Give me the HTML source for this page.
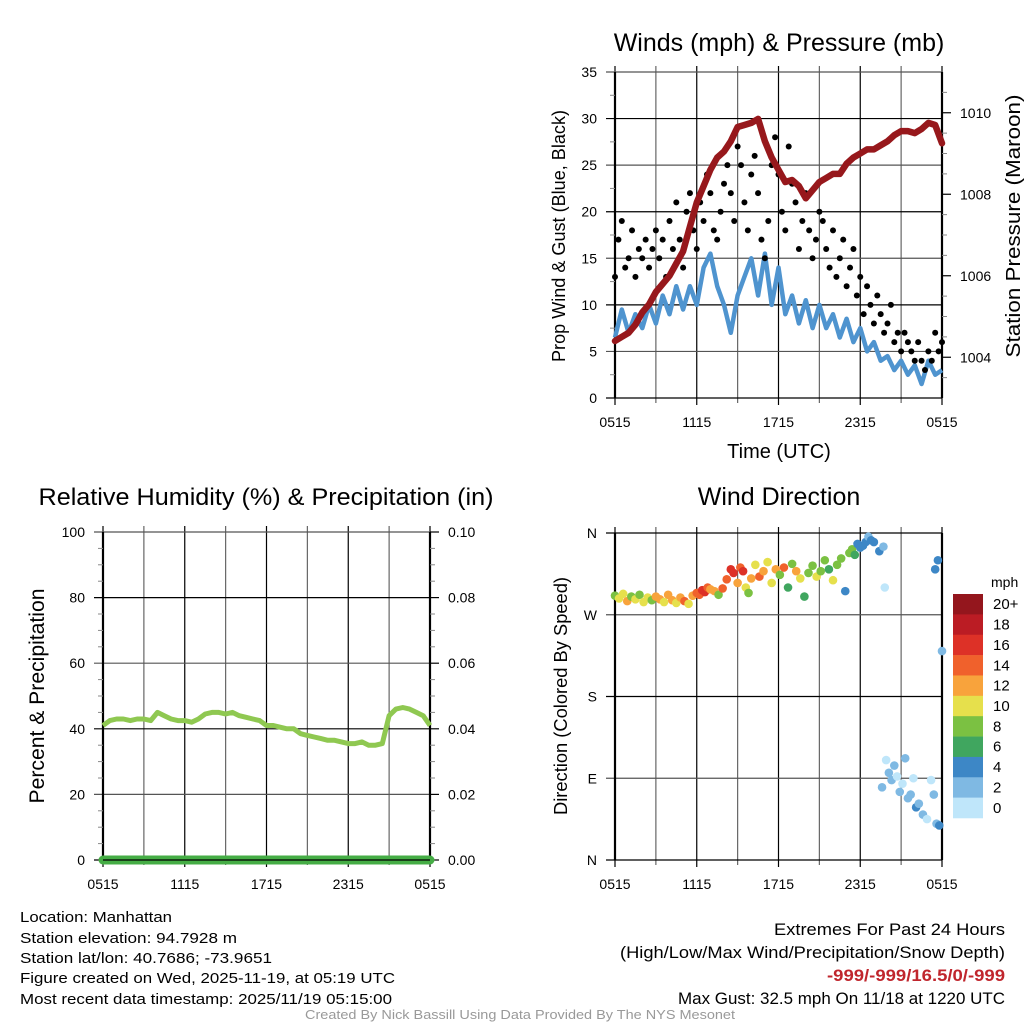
<!DOCTYPE html>
<html><head><meta charset="utf-8"><style>
body{margin:0;background:#fff}
svg{display:block;font-family:"Liberation Sans",sans-serif}
</style></head><body>
<svg id="fig" width="1024" height="1024" viewBox="0 0 1024 1024">
<g id="winds"></g>
<g id="rh"></g>
<g id="dir"></g>
<g id="cbar"></g>
<g font-size="15" fill="#000">
<text x="20" y="922" textLength="152" lengthAdjust="spacingAndGlyphs">Location: Manhattan</text>
<text x="20" y="943" textLength="217" lengthAdjust="spacingAndGlyphs">Station elevation: 94.7928 m</text>
<text x="20" y="963" textLength="252" lengthAdjust="spacingAndGlyphs">Station lat/lon: 40.7686; -73.9651</text>
<text x="20" y="983" textLength="375" lengthAdjust="spacingAndGlyphs">Figure created on Wed, 2025-11-19, at 05:19 UTC</text>
<text x="20" y="1004" textLength="372" lengthAdjust="spacingAndGlyphs">Most recent data timestamp: 2025/11/19 05:15:00</text>
</g>
<g font-size="17">
<text x="774" y="935" textLength="231" lengthAdjust="spacingAndGlyphs">Extremes For Past 24 Hours</text>
<text x="620" y="958" textLength="385" lengthAdjust="spacingAndGlyphs">(High/Low/Max Wind/Precipitation/Snow Depth)</text>
<text x="827" y="981" textLength="178" lengthAdjust="spacingAndGlyphs" fill="#c0262d" font-weight="bold">-999/-999/16.5/0/-999</text>
<text x="678" y="1004" textLength="327" lengthAdjust="spacingAndGlyphs">Max Gust: 32.5 mph On 11/18 at 1220 UTC</text>
</g>
<text x="305" y="1019" font-size="13" fill="#999" textLength="430" lengthAdjust="spacingAndGlyphs">Created By Nick Bassill Using Data Provided By The NYS Mesonet</text>
</svg>
<script>
// ---- data ----
const xTickLabels = ["0515","1115","1715","2315","0515"];
const sustained = [6.5,9.5,7,9,7.5,10,8,11,9,12,9.5,12,10,14,15.5,12,10,7,11,13,15,11,15.5,10,14,9,11,8,10.5,7.5,10,7.5,9,6.5,8.5,6,7.5,5,6,4,4.5,3,4,2.5,3.5,1.5,4,2.5,3];
const gusts = [13,17,19,14,15,18,13,16,15,17,14,16,18,15,17,13,19,16,21,17,14,20,22,18,16,21,19,24,22,18,17,20,23,25,22,19,27,25,21,18,24,26,22,17,15,19,25,28,24,20,18,27,23,21,16,19,22,18,15,17,20,19,16,14,18,13,15,17,12,14,16,11,13,9,12,10,8,11,9,7,8,10,6,7,5,7,6,5,4,6,4,3,5,4,7,5,6];
const pressure = [1004.4,1004.5,1004.6,1004.8,1005.1,1005.3,1005.6,1005.8,1006.0,1006.3,1006.6,1007.2,1007.8,1008.2,1008.6,1008.9,1009.05,1009.3,1009.65,1009.7,1009.75,1009.85,1009.3,1008.9,1008.6,1008.3,1008.35,1008.2,1007.9,1008.1,1008.3,1008.4,1008.5,1008.5,1008.75,1008.9,1009.0,1009.1,1009.1,1009.2,1009.3,1009.45,1009.55,1009.55,1009.5,1009.6,1009.75,1009.7,1009.25];
const rhValues = [41,42.5,43,43,42.5,43,43,42.5,45,44,43,42.5,42.5,42,43,44.5,45,45,44.5,45,44,43.5,43,42.5,41,41,40.5,40,40,38.5,38,37.5,37,36.5,36.5,36,35.5,35.5,36,35,35,35.5,44,46,46.5,46,45,44,41];
const precipValues = [0,0,0,0,0,0,0,0,0,0,0,0,0,0,0,0,0,0,0,0,0,0,0,0,0,0,0,0,0,0,0,0,0,0,0,0,0,0,0,0,0,0,0,0,0,0,0,0,0];
const dirHour = [0,0.3,0.6,0.9,1.2,1.5,1.8,2.1,2.4,2.7,3,3.3,3.6,3.9,4.2,4.5,4.8,5.1,5.4,5.7,6,6.2,6.4,6.6,6.8,7,7.3,7.6,7.9,8.2,8.5,8.7,9,9.2,9.4,9.6,9.8,10,10.3,10.6,10.9,11.2,11.5,11.8,12.1,12.4,12.7,13,13.3,13.6,13.9,14.2,14.5,14.8,15.1,15.4,15.7,16,16.3,16.6,16.9,17.2,17.4,17.6,17.8,18,18.2,18.4,18.6,18.8,19,19.4,19.7,19.8,19.6,19.9,20.1,20.3,20.5,20.7,20.9,21.1,21.3,21.5,21.7,21.9,22.1,22.3,22.6,22.9,23.2,23.4,23.6,23.8,24,23.5,23.7];
const dirDeg = [291,288,293,285,290,287,292,284,289,286,290,287,284,292,286,283,289,285,282,291,294,292,297,295,300,298,296,292,299,309,320,316,305,322,318,300,294,310,325,312,318,328,305,320,314,322,300,326,318,310,290,316,324,312,318,330,320,308,325,332,296,338,342,336,348,344,346,350,356,352,350,340,345,300,80,110,96,88,104,92,75,84,112,68,72,90,58,62,50,45,88,72,40,38,230,320,330];
const dirSpeed = [9,11,10,12,9,11,8,10,11,9,13,12,11,13,12,10,12,14,11,13,15,14,17,16,15,13,12,9,14,15,16,17,13,14,16,10,9,12,11,15,13,10,11,12,8,14,7,9,13,10,6,8,9,10,8,9,7,11,9,8,5,9,8,6,5,4,4,5,3,4,5,4,3,1,2,1,3,2,3,1,2,1,3,2,2,1,4,2,3,1,1,2,3,4,3,4,4];
const cbarLabels = ["20+","18","16","14","12","10","8","6","4","2","0"];
const cbarColors = ["#94161d","#bb1c24","#dd3127","#f0612c","#f8a33c","#e6e04c","#7bc142","#40a65f","#3d87c6","#7fb9e3","#bfe6fa"];

const NS="http://www.w3.org/2000/svg";
function mk(parent,tag,attrs){const e=document.createElementNS(NS,tag);for(const k in attrs)e.setAttribute(k,attrs[k]);parent.appendChild(e);return e;}
function txt(parent,x,y,s,size,anchor,extra){const t=mk(parent,'text',Object.assign({x:x,y:y,'font-size':size,'text-anchor':anchor||'middle'},extra||{}));t.textContent=s;return t;}

function frame(g,x0,x1,y0,y1,nY){
  for(let i=0;i<=8;i++){const x=x0+(x1-x0)*i/8;const l=mk(g,'line',{x1:x,x2:x,y1:y0-6,y2:y1+(i%2==0?7:5),stroke:i%2?'#666':'#000','stroke-width':1.2});
    
    }
  for(let j=0;j<=nY;j++){const y=y1-(y1-y0)*j/nY;const l=mk(g,'line',{x1:x0-9,x2:x1,y1:y,y2:y,stroke:j%2?'#555':'#000','stroke-width':1.2});
    
    }
  mk(g,'line',{x1:x0,x2:x0,y1:y0,y2:y1,stroke:'#000','stroke-width':2.2});
  mk(g,'line',{x1:x1,x2:x1,y1:y0,y2:y1,stroke:'#000','stroke-width':2.2});
  xTickLabels.forEach((s,i)=>{const t=txt(g,x0+(x1-x0)*i/4,y1+29,s,14);
    
    });
}

// ---- winds chart ----
(function(){
  const g=document.getElementById('winds');
  const X0=615,X1=942,Y0=72,Y1=398;
  const xs=h=>X0+(X1-X0)*h/24, ys=v=>Y1-(Y1-Y0)*v/35, yp=p=>Y1-(Y1-Y0)*(p-1003)/8;
  frame(g,X0,X1,Y0,Y1,7);
  for(let v=0;v<=35;v+=5){const t=txt(g,597,ys(v)+5,String(v),14,'end');
    
    }
  for(let v=2.5;v<35;v+=5)mk(g,'line',{x1:X0-5,x2:X0,y1:ys(v),y2:ys(v),stroke:'#888'});
  for(let p=1004;p<=1010;p+=2){mk(g,'line',{x1:X1,x2:X1+9,y1:yp(p),y2:yp(p),stroke:'#000','stroke-width':1.2});
    const t=txt(g,960,yp(p)+5,String(p),14,'start');
    
    }
  for(let p=1003.5;p<1011;p+=0.5){if(p%2)mk(g,'line',{x1:X1,x2:X1+5,y1:yp(p),y2:yp(p),stroke:'#888'});}
  let d=sustained.map((v,i)=>(i?'L':'M')+xs(i*24/(sustained.length-1)).toFixed(1)+' '+ys(v).toFixed(1)).join('');
  const sl=mk(g,'path',{d:d,fill:'none',stroke:'#4f94cf','stroke-width':4.5,'stroke-linejoin':'round'});
  
  
  gusts.forEach((v,i)=>{const c=mk(g,'circle',{cx:xs(i*24/(gusts.length-1)),cy:ys(v),r:3,fill:'#000'});
    
    });
  d=pressure.map((v,i)=>(i?'L':'M')+xs(i*24/(pressure.length-1)).toFixed(1)+' '+yp(v).toFixed(1)).join('');
  const pl=mk(g,'path',{d:d,fill:'none',stroke:'#97181c','stroke-width':6.5,'stroke-linejoin':'round','stroke-linecap':'round'});
  
  
  let t=txt(g,779,51,'Winds (mph) & Pressure (mb)',25);
  
  
  t=txt(g,779,458,'Time (UTC)',20);
  
  
  t=txt(g,0,0,'Prop Wind & Gust (Blue, Black)',18,'middle',{transform:'translate(565,236) rotate(-90)',textLength:252,lengthAdjust:'spacingAndGlyphs'});
  
  
  t=txt(g,0,0,'Station Pressure (Maroon)',20,'middle',{transform:'translate(1020,226) rotate(-90)',textLength:263,lengthAdjust:'spacingAndGlyphs'});
  
  
})();

// ---- RH chart ----
(function(){
  const g=document.getElementById('rh');
  const X0=103,X1=430,Y0=532,Y1=860;
  const xs=h=>X0+(X1-X0)*h/24, ys=v=>Y1-(Y1-Y0)*v/100, yq=v=>Y1-(Y1-Y0)*v/0.1;
  frame(g,X0,X1,Y0,Y1,5);
  for(let v=0;v<=100;v+=20){const t=txt(g,85,ys(v)+5,String(v),14,'end');
    
    
    mk(g,'line',{x1:X1,x2:X1+9,y1:ys(v),y2:ys(v),stroke:'#000','stroke-width':1.2});
    const r=txt(g,448,ys(v)+5,(v/1000).toFixed(2),14,'start');
    
    }
  for(let v=5;v<100;v+=5){if(v%20){mk(g,'line',{x1:X0-5,x2:X0,y1:ys(v),y2:ys(v),stroke:'#888'});mk(g,'line',{x1:X1,x2:X1+5,y1:ys(v),y2:ys(v),stroke:'#888'});}}
  let d=rhValues.map((v,i)=>(i?'L':'M')+xs(i*24/(rhValues.length-1)).toFixed(1)+' '+ys(v).toFixed(1)).join('');
  const l=mk(g,'path',{d:d,fill:'none',stroke:'#8fc851','stroke-width':5,'stroke-linejoin':'round'});
  
  
  d=precipValues.map((v,i)=>(i?'L':'M')+xs(i*24/(precipValues.length-1)).toFixed(1)+' '+yq(v).toFixed(1)).join('');
  const p=mk(g,'path',{d:d,fill:'none',stroke:'#45ad45','stroke-width':9,'stroke-linecap':'round'});
  
  
  mk(g,'line',{x1:X0,x2:X1,y1:Y1,y2:Y1,stroke:'#000','stroke-width':1.2});
  let t=txt(g,266,505,'Relative Humidity (%) & Precipitation (in)',24,'middle',{textLength:455,lengthAdjust:'spacingAndGlyphs'});
  
  
  t=txt(g,0,0,'Percent & Precipitation',21,'middle',{transform:'translate(44,696) rotate(-90)',textLength:215,lengthAdjust:'spacingAndGlyphs'});
  
  
})();

// ---- direction chart ----
(function(){
  const g=document.getElementById('dir');
  const X0=615,X1=942,Y0=533,Y1=860;
  const xs=h=>X0+(X1-X0)*h/24, ys=v=>Y1-(Y1-Y0)*v/360;
  frame(g,X0,X1,Y0,Y1,4);
  ["N","E","S","W","N"].forEach((s,i)=>{const t=txt(g,597,ys(i*90)+5,s,14,'end');
    
    });
  dirHour.forEach((h,i)=>{const b=Math.min(10,Math.floor(dirSpeed[i]/2));
    const c=mk(g,'circle',{cx:xs(h),cy:ys(dirDeg[i]),r:4.3,fill:cbarColors[10-b]});
    
    });
  let t=txt(g,779,505,'Wind Direction',25);
  
  
  t=txt(g,0,0,'Direction (Colored By Speed)',18,'middle',{transform:'translate(567,696) rotate(-90)',textLength:238,lengthAdjust:'spacingAndGlyphs'});
  
  
})();

// ---- colorbar ----
(function(){
  const g=document.getElementById('cbar');
  const h=224/11;
  cbarColors.forEach((c,i)=>{const r=mk(g,'rect',{x:953,y:594+i*h,width:30,height:h+0.3,fill:c});
    
    
    const t=txt(g,993,594+i*h+h/2+5,cbarLabels[i],15,'start');
    
    });
  const t=txt(g,991,587,'mph',14,'start');
  
  
})();
</script>
</body></html>
